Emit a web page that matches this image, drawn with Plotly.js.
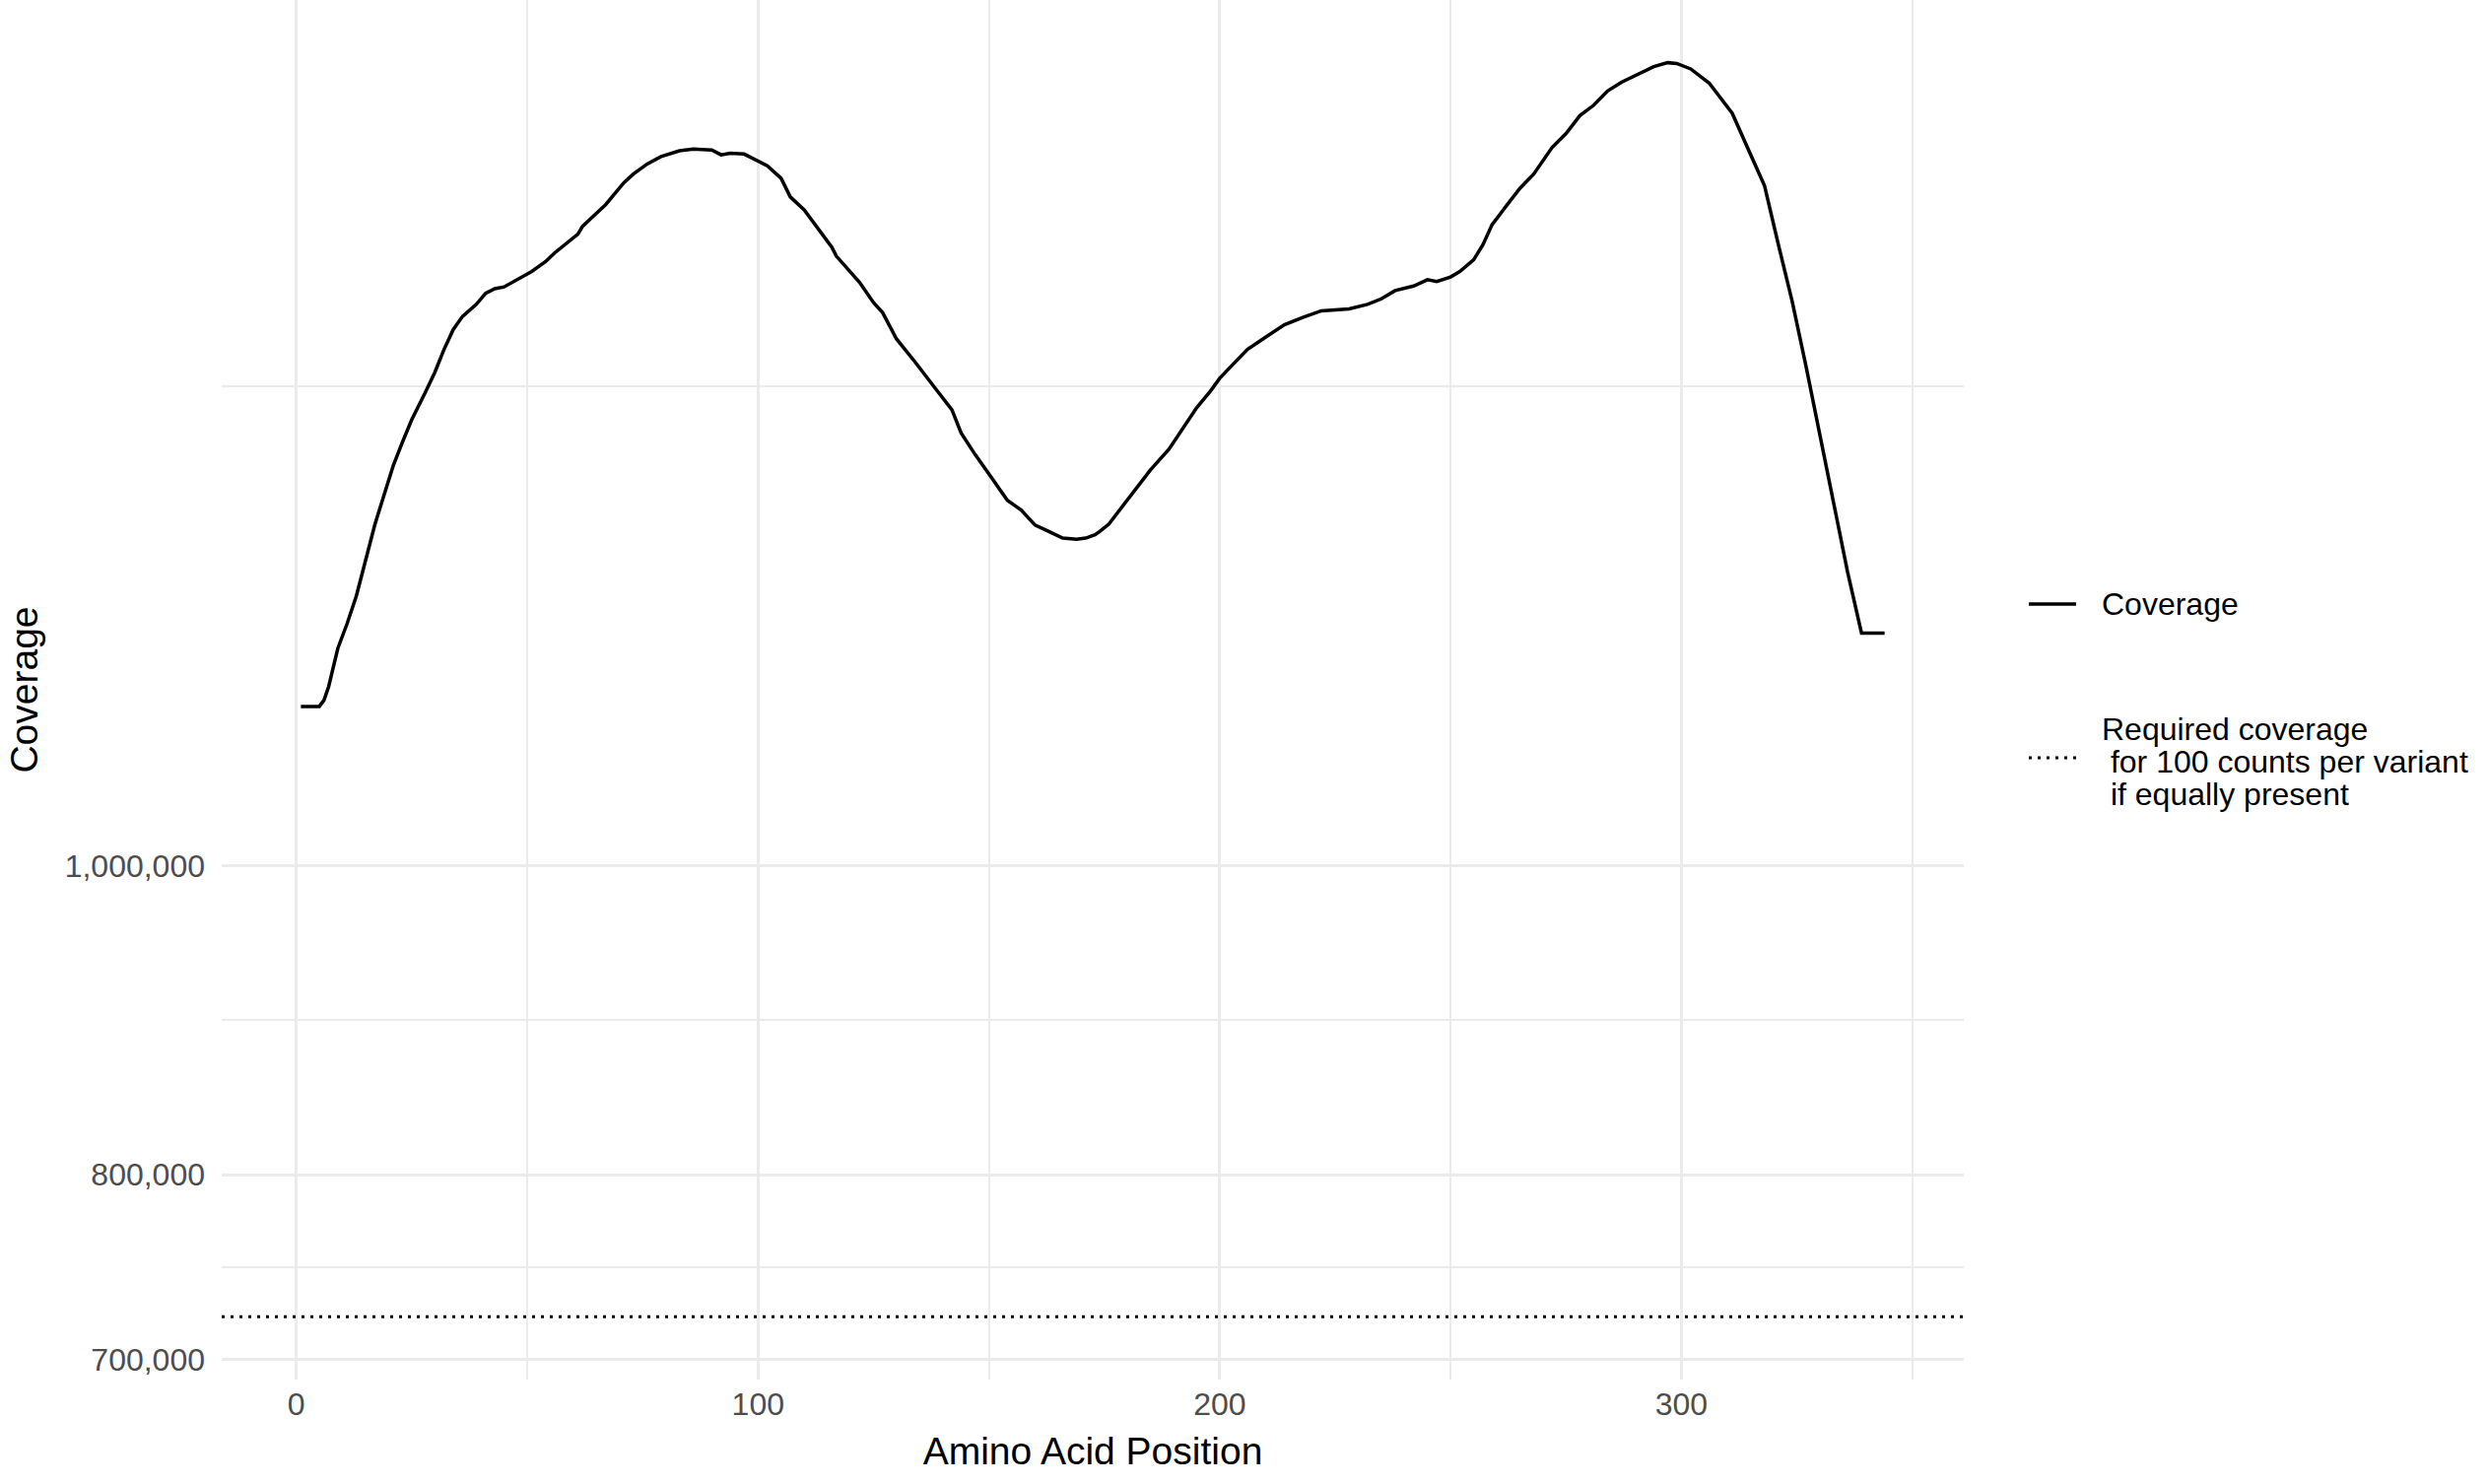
<!DOCTYPE html>
<html>
<head>
<meta charset="utf-8">
<script src="https://cdn.plot.ly/plotly-3.0.1.min.js"></script>
<style>
html, body { margin: 0; padding: 0; background: #ffffff; }
#chart { width: 2524px; height: 1506px; }
</style>
</head>
<body>
<div id="chart"></div>
<script>
// Amino acid positions and read coverage
const positions = [1, 5, 6, 7, 9, 11, 13, 15, 17, 19, 21, 23, 25, 28, 30, 32, 34, 36, 39,
  41, 43, 45, 48, 51, 54, 56, 61, 62, 65, 67, 69, 71, 73, 76, 79, 83, 86, 88, 90,
  92, 94, 97, 100, 102, 105, 107, 110, 112, 116, 117, 122, 125, 127, 130, 134, 139, 142, 144, 147,
  151, 154, 157, 160, 163, 166, 169, 171, 173, 174, 176, 179, 182, 185, 189, 192, 195, 198, 200, 203,
  206, 210, 214, 218, 222, 228, 232, 235, 238, 242, 245, 247, 250, 252, 255, 257, 259, 262, 265, 268,
  272, 275, 278, 281, 284, 287, 291, 294, 297, 299, 302, 306, 311, 314, 318, 321, 324, 327, 330, 333,
  336, 339, 344];
const coverage = [1122000, 1122000, 1127000, 1138000, 1170000, 1191000, 1215000, 1246000, 1279000, 1307000,
  1335000, 1358000, 1380000, 1408000, 1428000, 1452000, 1473000, 1487000, 1500000,
  1512000, 1517000, 1519000, 1528000, 1536000, 1547000, 1557000, 1578000, 1587000, 1602000,
  1612000, 1625000, 1638000, 1648000, 1660000, 1669000, 1676000, 1678000, 1678000, 1677000,
  1671000, 1673000, 1672000, 1664000, 1658000, 1643000, 1621000, 1606000, 1591000, 1563000,
  1553000, 1524000, 1502000, 1491000, 1463000, 1439000, 1408000, 1390000, 1367000, 1346000,
  1321000, 1302000, 1293000, 1279000, 1273000, 1267000, 1266000, 1267000, 1270000, 1273000,
  1280000, 1297000, 1314000, 1331000, 1351000, 1371000, 1392000, 1409000, 1422000, 1437000,
  1452000, 1465000, 1478000, 1486000, 1493000, 1495000, 1500000, 1506000, 1515000, 1520000,
  1527000, 1525000, 1530000, 1536000, 1549000, 1566000, 1589000, 1610000, 1631000, 1648000,
  1680000, 1697000, 1719000, 1732000, 1750000, 1761000, 1773000, 1781000, 1786000, 1785000,
  1778000, 1760000, 1722000, 1684000, 1634000, 1566000, 1503000, 1434000, 1365000, 1298000,
  1236000, 1183000, 1183000];
const requiredCoverage = 722000;

const seriesNames = ['Coverage', 'Required coverage\n for 100 counts per variant\n if equally present'];
const xTitle = 'Amino Acid Position';
const yTitle = 'Coverage';

const xTickVals = [0, 100, 200, 300];
const xTickLabels = ['0', '100', '200', '300'];
const xMinorVals = [50, 150, 250, 350];
const yTickVals = [700000, 800000, 1000000];
const yTickLabels = ['700,000', '800,000', '1,000,000'];
const yMinorVals = [Math.sqrt(700000 * 800000), Math.sqrt(800000 * 1000000), Math.sqrt(1000000 * 2000000)];

// ggplot-style 5% expansion of the scales
const xMin = Math.min(...positions), xMax = Math.max(...positions);
const xPad = 0.05 * (xMax - xMin);
const xRange = [xMin - xPad, xMax + xPad];
const yAll = coverage.concat([requiredCoverage]);
const yLo = Math.log10(Math.min(...yAll)), yHi = Math.log10(Math.max(...yAll));
const yPad = 0.05 * (yHi - yLo);
const yRange = [yLo - yPad, yHi + yPad];

const gridColor = '#EBEBEB';
const FONT = '"Liberation Sans", Arial, Helvetica, sans-serif';
const TICK_SIZE = 32, TITLE_SIZE = 39, LEGEND_SIZE = 32;

// plot-area geometry (px) used to place the hand-drawn legend
const W = 2524, H = 1506;
const M = { l: 225, r: 531, t: 0, b: 106 };
const plotW = W - M.l - M.r, plotH = H - M.t - M.b;
const px2x = p => (p - M.l) / plotW;
const px2y = p => 1 - (p - M.t) / plotH;

const solidLine = { color: '#000000', width: 3.5 };
const dottedLine = { color: '#000000', width: 3, dash: '3px,6px' };

const traces = [
  {
    type: 'scatter', mode: 'lines',
    x: positions, y: coverage,
    name: seriesNames[0], showlegend: false,
    line: solidLine,
    hoverinfo: 'x+y'
  },
  {
    type: 'scatter', mode: 'lines',
    x: xRange, y: [requiredCoverage, requiredCoverage],
    name: seriesNames[1].replace(/\n/g, ' '), showlegend: false,
    line: dottedLine,
    hoverinfo: 'y'
  }
];

// Legend (drawn by hand so the key/text spacing matches the ggplot legend)
const legendKeyX0 = px2x(2059), legendKeyX1 = px2x(2107), legendTextX = px2x(2131);
const legendKeyPx = [613, 769];
const legendTextPx = [613, 773];
const lineGap = 33; // px between legend text lines
const legendLines = seriesNames.map(s => s.split('\n'));

const annotations = [];
legendLines.forEach((lines, i) => {
  lines.forEach((txt, j) => {
    const yPx = legendTextPx[i] + (j - (lines.length - 1) / 2) * lineGap;
    annotations.push({
      xref: 'paper', yref: 'paper', x: legendTextX, y: px2y(yPx),
      xanchor: 'left', yanchor: 'middle', showarrow: false, align: 'left',
      text: txt.replace(/^ /, '\u00a0'),
      font: { family: FONT, size: LEGEND_SIZE, color: '#000000' }
    });
  });
});

const layout = {
  width: W, height: H,
  margin: { l: M.l, r: M.r, t: M.t, b: M.b, pad: 0 },
  paper_bgcolor: '#ffffff', plot_bgcolor: '#ffffff',
  font: { family: FONT, color: '#000000' },
  showlegend: false,
  xaxis: {
    range: xRange,
    tickmode: 'array', tickvals: xTickVals, ticktext: xTickLabels,
    showgrid: true, gridcolor: gridColor, gridwidth: 3,
    minor: { tickmode: 'array', tickvals: xMinorVals, showgrid: true, gridcolor: gridColor, gridwidth: 1.6, ticks: '' },
    zeroline: false, showline: false, ticks: '',
    ticklabelstandoff: 3,
    tickfont: { family: FONT, size: TICK_SIZE, color: '#4D4D4D' },
    title: { text: xTitle, font: { family: FONT, size: TITLE_SIZE, color: '#000000' }, standoff: 16 }
  },
  yaxis: {
    type: 'log',
    range: yRange,
    tickmode: 'array', tickvals: yTickVals, ticktext: yTickLabels,
    showgrid: true, gridcolor: gridColor, gridwidth: 3,
    minor: { tickmode: 'array', tickvals: yMinorVals, showgrid: true, gridcolor: gridColor, gridwidth: 1.6, ticks: '' },
    zeroline: false, showline: false, ticks: '',
    ticklabelstandoff: 16,
    tickfont: { family: FONT, size: TICK_SIZE, color: '#4D4D4D' },
    title: { text: yTitle, font: { family: FONT, size: TITLE_SIZE, color: '#000000' }, standoff: 14 }
  },
  shapes: [
    { type: 'line', xref: 'paper', yref: 'paper', x0: legendKeyX0, x1: legendKeyX1,
      y0: px2y(legendKeyPx[0]), y1: px2y(legendKeyPx[0]), line: solidLine },
    { type: 'line', xref: 'paper', yref: 'paper', x0: legendKeyX0, x1: legendKeyX1,
      y0: px2y(legendKeyPx[1]), y1: px2y(legendKeyPx[1]), line: dottedLine }
  ],
  annotations: annotations
};

Plotly.newPlot('chart', traces, layout, { displayModeBar: false, responsive: false });
</script>
</body>
</html>
